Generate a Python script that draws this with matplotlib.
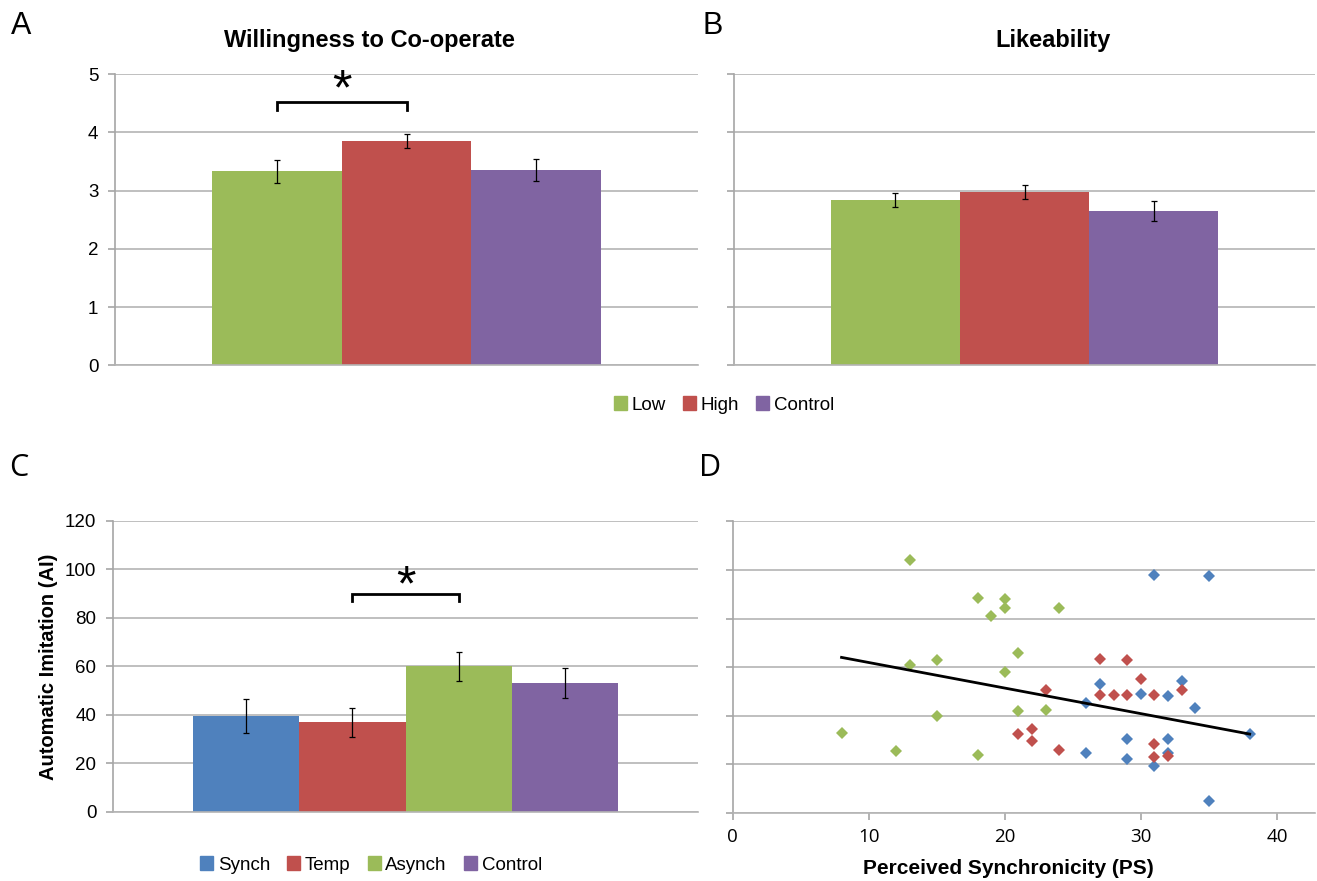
import numpy as np
import matplotlib
matplotlib.use("Agg")
import matplotlib.pyplot as plt
from matplotlib.patches import Patch

# ---- data -------------------------------------------------------------
group_labels = ["Low", "High", "Control"]
coop_means = [3.33, 3.85, 3.35]
coop_err = [0.19, 0.12, 0.19]
like_means = [2.84, 2.97, 2.65]
like_err = [0.12, 0.12, 0.17]

ai_labels = ["Synch", "Temp", "Asynch", "Control"]
ai_means = [39.6, 37.0, 60.1, 53.2]
ai_err = [6.9, 5.9, 6.0, 6.2]

synch_ps = [31, 35, 27, 30, 32, 33, 26, 34, 38, 29, 32, 26, 32, 29, 31, 35]
synch_ai = [98, 97.7, 53, 49, 48, 54.4, 45, 43, 32.4, 30.5, 30.5, 24.7, 24.7, 22.3, 19.2, 5]
temp_ps = [23, 21, 22, 22, 24, 27, 29, 30, 27, 28, 29, 31, 33, 31, 31, 32]
temp_ai = [50.5, 32.3, 34.3, 29.4, 25.7, 63.2, 63, 55, 48.5, 48.5, 48.5, 48.5, 50.5, 28.3, 22.8, 23.4]
asynch_ps = [13, 18, 20, 20, 19, 21, 13, 15, 20, 21, 15, 8, 12, 18, 24, 23]
asynch_ai = [104, 88.6, 88, 84.5, 81, 65.7, 61, 63, 58, 42, 40, 32.7, 25.5, 23.6, 84.5, 42.3]

# linear trend as shown in the figure (AI = slope * PS + intercept)
trend_slope = -1.053
trend_intercept = 72.4

GREEN = "#9BBB59"
RED = "#C0504D"
PURPLE = "#8064A2"
BLUE = "#4F81BD"
GRID = "#b4b4b4"
AXIS = "#a6a6a6"

ARIAL = ["Liberation Sans", "DejaVu Sans"]
SEGOE = ["Open Sans", "DejaVu Sans"]

fig = plt.figure(figsize=(13.17, 8.81), dpi=100)
W, H = 1317.0, 881.0


def px_axes(x0, x1, ytop, ybot):
    return fig.add_axes([x0 / W, 1 - ybot / H, (x1 - x0) / W, (ybot - ytop) / H])


def style_axes(ax, ticks, labels=True):
    for s in ["top", "right"]:
        ax.spines[s].set_visible(False)
    ax.spines["left"].set_color(AXIS)
    ax.spines["bottom"].set_color(GRID)
    ax.spines["left"].set_linewidth(1.2)
    ax.spines["bottom"].set_linewidth(1.2)
    ax.set_yticks(ticks)
    ax.yaxis.grid(True, color=GRID, linewidth=1.2)
    ax.set_axisbelow(True)
    ax.tick_params(axis="y", length=5, width=1.2, color=AXIS, pad=7,
                   labelsize=13.5)
    if not labels:
        ax.set_yticklabels([])
    for t in ax.get_yticklabels():
        t.set_family(ARIAL)


def bars(ax, means, errs, colors):
    n = len(means)
    w = 1.0 / (n + 1.5)
    xs = [(i - (n - 1) / 2) * w for i in range(n)]
    ax.bar(xs, means, width=w, color=colors, zorder=2)
    ax.errorbar(xs, means, yerr=errs, fmt="none", ecolor="black",
                elinewidth=0.9, capsize=2.5, capthick=0.9, zorder=3)
    ax.set_xlim(-0.5, 0.5)
    ax.set_xticks([])
    return xs


def bracket(ax, x0, x1, y, drop, star_y):
    ax.plot([x0, x0, x1, x1], [y - drop, y, y, y - drop], color="black",
            lw=2, zorder=4, solid_joinstyle="miter")
    ax.text((x0 + x1) / 2, star_y, "*", ha="center", va="center",
            fontsize=36, family=ARIAL)


# ---- A ----------------------------------------------------------------
axA = px_axes(115, 698, 74.3, 365.3)
style_axes(axA, range(0, 6))
axA.set_ylim(0, 5)
xs = bars(axA, coop_means, coop_err, [GREEN, RED, PURPLE])
bracket(axA, xs[0], xs[1], 4.53, 0.14, 4.70)

# ---- B ----------------------------------------------------------------
axB = px_axes(734, 1315, 74.3, 365.3)
style_axes(axB, range(0, 6), labels=False)
axB.set_ylim(0, 5)
bars(axB, like_means, like_err, [GREEN, RED, PURPLE])

# ---- C ----------------------------------------------------------------
axC = px_axes(113, 698, 520.7, 812)
style_axes(axC, range(0, 121, 20))
axC.set_ylim(0, 120)
xs = bars(axC, ai_means, ai_err, [BLUE, RED, GREEN, PURPLE])
bracket(axC, xs[1], xs[2], 89.7, 2.6, 92.5)
axC.set_ylabel("Automatic Imitation (AI)", fontsize=14.5, fontweight="bold",
               family=ARIAL, labelpad=5)

# ---- D ----------------------------------------------------------------
axD = px_axes(732.7, 1315, 521.4, 812.7)
style_axes(axD, range(0, 121, 20), labels=False)
axD.set_ylim(0, 120)
axD.set_xlim(0, 42.8)
axD.set_xticks(range(0, 41, 10))
axD.tick_params(axis="x", length=5, width=1.2, color=AXIS, pad=6,
                labelsize=13.5)
for t in axD.get_xticklabels():
    t.set_family(SEGOE)
for ps, ai, c in [(synch_ps, synch_ai, BLUE), (temp_ps, temp_ai, RED),
                  (asynch_ps, asynch_ai, GREEN)]:
    axD.plot(ps, ai, "D", color=c, markersize=6.2, markeredgewidth=0,
             zorder=3, clip_on=False)
all_ps = np.array(synch_ps + temp_ps + asynch_ps, dtype=float)
xfit = np.array([all_ps.min(), all_ps.max()])
axD.plot(xfit, trend_slope * xfit + trend_intercept, color="black", lw=2,
         zorder=4)

# ---- text -------------------------------------------------------------
fig.text(369 / W, 1 - 41 / H, "Willingness to Co-operate", ha="center",
         va="center", fontsize=17, fontweight="bold", family=ARIAL)
fig.text(1053 / W, 1 - 41 / H, "Likeability", ha="center", va="center",
         fontsize=17, fontweight="bold", family=ARIAL)
fig.text(1008 / W, 1 - 868 / H, "Perceived Synchronicity (PS)", ha="center",
         va="center", fontsize=15, fontweight="bold", family=ARIAL)
fig.text(11 / W, 1 - 26 / H, "A", ha="left", va="center", fontsize=22,
         family=ARIAL)
fig.text(703 / W, 1 - 26 / H, "B", ha="left", va="center", fontsize=22,
         family=ARIAL)
fig.text(9 / W, 1 - 468 / H, "C", ha="left", va="center", fontsize=22,
         family=SEGOE)
fig.text(699 / W, 1 - 468 / H, "D", ha="left", va="center", fontsize=22,
         family=SEGOE)

leg_kw = dict(frameon=False, handlelength=0.7, handleheight=0.7,
              handletextpad=0.25, columnspacing=0.9, borderaxespad=0,
              prop={"family": ARIAL, "size": 13.5})
fig.legend([Patch(color=c) for c in [GREEN, RED, PURPLE]], group_labels,
           loc="center", bbox_to_anchor=(724 / W, 1 - 405 / H), ncol=3,
           **leg_kw)
fig.legend([Patch(color=c) for c in [BLUE, RED, GREEN, PURPLE]], ai_labels,
           loc="center", bbox_to_anchor=(371 / W, 1 - 865 / H), ncol=4,
           **leg_kw)

fig.savefig("out.png", dpi=100)
